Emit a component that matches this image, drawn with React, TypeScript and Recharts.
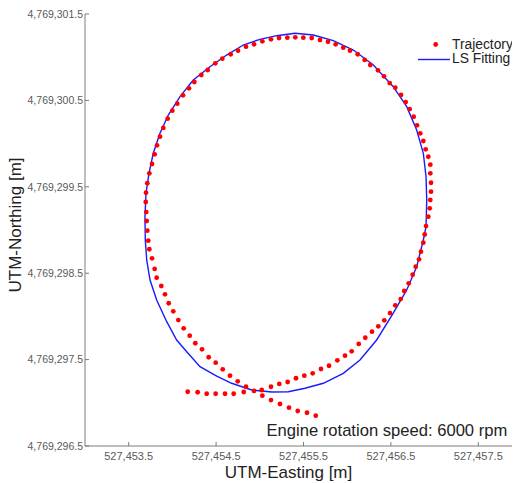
import { ScatterChart, Scatter, XAxis, YAxis, Legend, Label } from 'recharts';

const FONT = 'Arial, "Liberation Sans", sans-serif';

// base of the UTM coordinates, values below are offsets from it [m]
const E0 = 527453;
const N0 = 4769296.5;

const X_TICKS = [527453.5, 527454.5, 527455.5, 527456.5, 527457.5];
const Y_TICKS = [4769296.5, 4769297.5, 4769298.5, 4769299.5, 4769300.5, 4769301.5];

// measured trajectory (red dots)
const trajE = [
  1.175, 1.289, 1.392, 1.495, 1.602, 1.701, 1.816,
  2.022, 2.128, 2.223, 2.319, 2.414, 2.509, 2.605, 2.700, 2.792, 2.887, 2.975, 3.051, 3.132, 3.207,
  3.284, 3.356, 3.424, 3.490, 3.550, 3.612, 3.653, 3.704, 3.749, 3.784, 3.822, 3.844, 3.871, 3.887,
  3.902, 3.928, 3.944, 3.951, 3.959, 3.959, 3.951, 3.951, 3.928, 3.898, 3.871, 3.836, 3.799, 3.761,
  3.715, 3.669, 3.616, 3.550, 3.486, 3.421, 3.352, 3.264, 3.200, 3.120, 3.032, 2.955, 2.868, 2.780,
  2.689, 2.594, 2.498, 2.406, 2.315, 2.220, 2.128, 2.029, 1.934, 1.842, 1.751, 1.667, 1.571, 1.491,
  1.404, 1.331, 1.251, 1.190, 1.121, 1.056, 0.999, 0.946, 0.896, 0.858, 0.824, 0.797, 0.767, 0.736,
  0.713, 0.698, 0.695, 0.701, 0.706, 0.713, 0.724, 0.736, 0.767, 0.797, 0.820, 0.873, 0.915, 0.958,
  1.010, 1.068, 1.129, 1.198, 1.262, 1.339, 1.415, 1.495, 1.576, 1.659, 1.747, 1.842, 1.934,
  2.029, 2.128, 2.231, 2.334, 2.434, 2.540, 2.640,
];
const trajN = [
  0.628, 0.622, 0.605, 0.605, 0.605, 0.605, 0.625,
  0.648, 0.686, 0.718, 0.741, 0.784, 0.814, 0.841, 0.891, 0.929, 0.992, 1.045, 1.096, 1.181, 1.253,
  1.323, 1.385, 1.455, 1.539, 1.628, 1.701, 1.794, 1.883, 1.983, 2.075, 2.161, 2.249, 2.353, 2.448,
  2.546, 2.654, 2.751, 2.847, 2.943, 3.047, 3.156, 3.256, 3.348, 3.434, 3.530, 3.619, 3.712, 3.811,
  3.900, 3.981, 4.063, 4.147, 4.201, 4.279, 4.348, 4.410, 4.468, 4.534, 4.575, 4.610, 4.649, 4.679,
  4.699, 4.722, 4.726, 4.730, 4.726, 4.722, 4.707, 4.684, 4.649, 4.622, 4.575, 4.534, 4.483, 4.429,
  4.352, 4.294, 4.213, 4.140, 4.059, 3.962, 3.881, 3.788, 3.681, 3.580, 3.480, 3.376, 3.264, 3.156,
  3.041, 2.932, 2.824, 2.708, 2.604, 2.492, 2.376, 2.277, 2.172, 2.049, 1.948, 1.852, 1.756, 1.652,
  1.559, 1.458, 1.362, 1.277, 1.189, 1.119, 1.027, 0.964, 0.888, 0.814, 0.749, 0.686, 0.637,
  0.582, 0.532, 0.486, 0.443, 0.405, 0.385, 0.351,
];

// least squares fitted curve (blue line)
const fitE = [
  2.403, 2.612, 2.841, 3.070, 3.299, 3.527, 3.681, 3.795, 3.871, 3.902, 3.910, 3.902, 3.871, 3.795,
  3.681, 3.527, 3.337, 3.146, 2.955, 2.727, 2.517, 2.326, 2.136, 1.907, 1.678, 1.507, 1.316, 1.164,
  1.049, 0.935, 0.820, 0.744, 0.706, 0.690, 0.686, 0.698, 0.732, 0.781, 0.858, 0.953, 1.087, 1.239,
  1.430, 1.621, 1.811, 2.002, 2.193, 2.403,
];
const fitN = [
  4.777, 4.757, 4.691, 4.583, 4.410, 4.159, 3.927, 3.657, 3.388, 3.117, 2.847, 2.538, 2.384, 2.075,
  1.806, 1.539, 1.227, 0.995, 0.841, 0.726, 0.668, 0.628, 0.625, 0.648, 0.726, 0.810, 0.918, 1.091,
  1.227, 1.439, 1.690, 1.921, 2.153, 2.384, 2.654, 2.925, 3.156, 3.388, 3.619, 3.831, 4.043, 4.236,
  4.390, 4.525, 4.641, 4.707, 4.749, 4.777,
];

const trajectory = trajE.map((e, i) => ({ x: E0 + e, y: N0 + trajN[i] }));
const fitting = fitE.map((e, i) => ({ x: E0 + e, y: N0 + fitN[i] }));

const fmt = (v: number) =>
  v.toLocaleString('en-US', { minimumFractionDigits: 1, maximumFractionDigits: 1 });

const AXIS = '#7a7a7a';
const TICK = { fill: '#5a5a5a', fontSize: 11, fontFamily: FONT };

const Dot = (p: any) => <circle cx={p.cx} cy={p.cy} r={2.4} fill="#ff0000" />;

const LegendBox = () => (
  <div style={{ fontFamily: FONT, fontSize: 13.8, color: '#222', lineHeight: '14.5px' }}>
    <div style={{ display: 'flex', alignItems: 'center', height: 14.5 }}>
      <svg width={36} height={13}>
        <circle cx={20.7} cy={6.5} r={2.4} fill="#ff0000" />
      </svg>
      <span style={{ marginLeft: 1 }}>Trajectory</span>
    </div>
    <div style={{ display: 'flex', alignItems: 'center', height: 14.5 }}>
      <svg width={36} height={13}>
        <line x1={3} x2={35} y1={6.5} y2={6.5} stroke="#1a1aff" strokeWidth={1.4} />
      </svg>
      <span style={{ marginLeft: 1 }}>LS Fitting</span>
    </div>
  </div>
);

const YTitle = ({ viewBox }: any) => {
  const cx = viewBox.x + 15;
  const cy = viewBox.y + viewBox.height / 2 - 5;
  return (
    <text x={cx} y={cy} transform={`rotate(-90 ${cx} ${cy})`} textAnchor="middle"
      dominantBaseline="central" fontSize={17} fontFamily={FONT} fill="#222">
      UTM-Northing [m]
    </text>
  );
};

const XTitle = ({ viewBox }: any) => (
  <text x={viewBox.x + viewBox.width / 2 - 15} y={viewBox.y + 32} textAnchor="middle"
    fontSize={17} fontFamily={FONT} fill="#222">
    UTM-Easting [m]
  </text>
);

export default function App() {
  return (
    <div style={{ position: 'relative', width: 520, height: 483, overflow: 'hidden', margin: '-8px 0 0 -8px', background: '#fff' }}>
      <ScatterChart width={530} height={483} margin={{ top: 14, right: 8, bottom: 0, left: 0 }}>
        <XAxis xAxisId="b" type="number" dataKey="x" domain={[527453, 527458]} ticks={X_TICKS}
          allowDataOverflow interval={0} tickFormatter={fmt} height={37}
          stroke={AXIS} tickSize={-4} tickMargin={10} tick={TICK}>
          <Label content={<XTitle />} />
        </XAxis>
        <XAxis xAxisId="t" orientation="top" type="number" domain={[527453, 527458]} ticks={X_TICKS}
          allowDataOverflow interval={0} height={0} stroke={AXIS} tickSize={-4} tick={false} />
        <YAxis yAxisId="l" type="number" dataKey="y" domain={[4769296.5, 4769301.5]} ticks={Y_TICKS}
          allowDataOverflow interval={0} tickFormatter={fmt} width={85}
          stroke={AXIS} tickSize={-4} tickMargin={6} tick={{ ...TICK, fontSize: 10.5 }}>
          <Label content={<YTitle />} />
        </YAxis>
        <YAxis yAxisId="r" orientation="right" type="number" domain={[4769296.5, 4769301.5]} ticks={Y_TICKS}
          allowDataOverflow interval={0} width={0} stroke={AXIS} tickSize={-4} tick={false} />
        <Scatter name="LS Fitting" data={fitting} xAxisId="b" yAxisId="l"
          line={{ stroke: '#1a1aff', strokeWidth: 1.4 }} lineType="joint"
          shape={() => <g />} isAnimationActive={false} />
        <Scatter name="Trajectory" data={trajectory} xAxisId="b" yAxisId="l"
          shape={Dot} isAnimationActive={false} />
        <Legend layout="horizontal" align="center" verticalAlign="middle" width={110}
          wrapperStyle={{ top: 37.5, left: 415 }} content={() => <LegendBox />} />
      </ScatterChart>
      <div style={{ position: 'absolute', left: 266.5, top: 421.5, fontFamily: FONT, fontSize: 16.6,
        lineHeight: '17px', color: '#222', whiteSpace: 'nowrap' }}>
        Engine rotation speed: 6000 rpm
      </div>
    </div>
  );
}
